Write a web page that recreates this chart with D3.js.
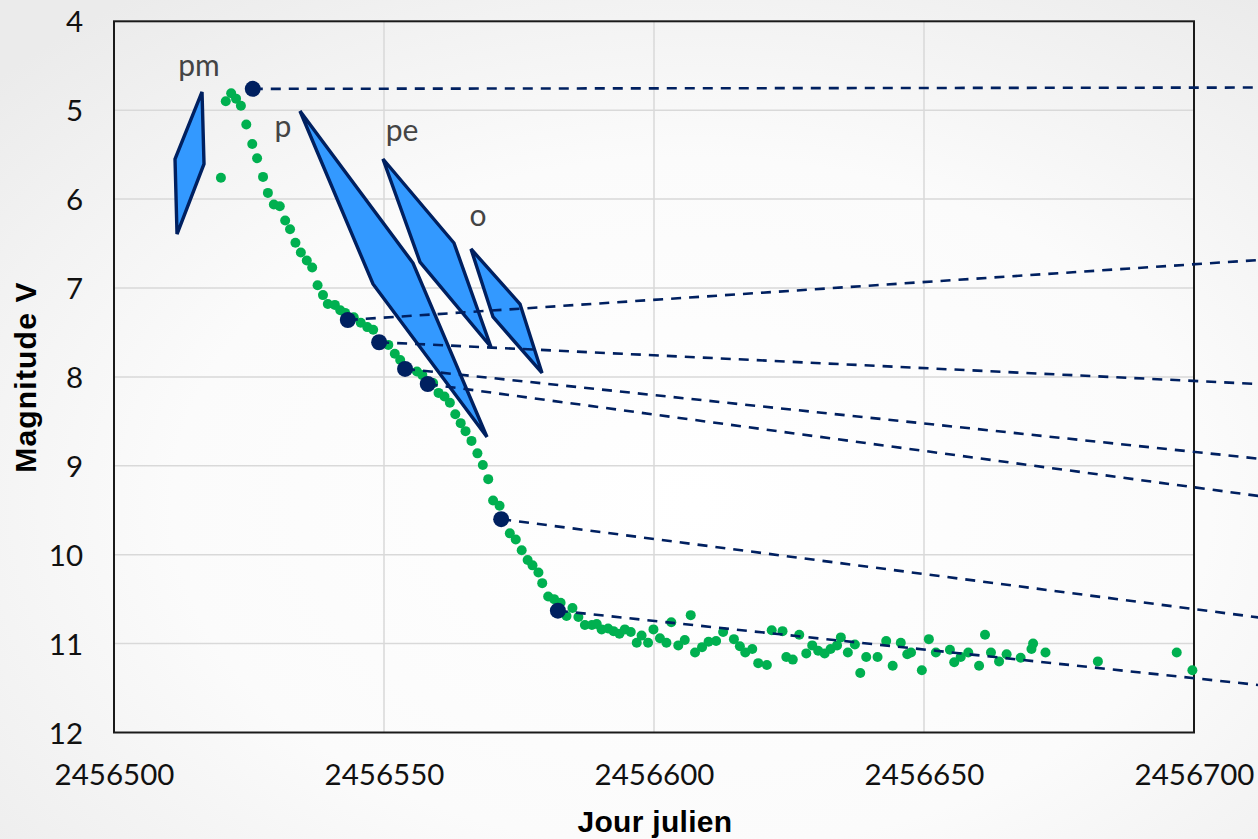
<!DOCTYPE html>
<html><head><meta charset="utf-8">
<script src="https://cdn.jsdelivr.net/npm/d3@7"></script>
<style>html,body{margin:0;padding:0;}svg{display:block;}</style>
</head><body>
<svg id="c" width="1258" height="839"></svg>
<script>
const JD0 = 2456500;
// observed magnitudes (green points): day offset from JD0, magnitude V
const obsDay = [19.8,20.7,21.7,22.6,23.5,24.5,25.6,26.5,27.6,28.5,29.6,30.7,31.7,32.6,33.6,34.6,35.7,36.7,37.7,38.7,39.6,40.9,41.9,42.8,44.4,45.7,46.9,48.0,50.8,52.0,53.0,56.1,57.1,59.1,60.1,61.2,62.2,63.2,64.2,65.1,66.2,67.3,68.3,69.3,70.2,71.4,73.3,74.4,75.5,76.6,77.5,78.6,79.3,80.4,81.5,82.7,83.8,84.9,86.0,87.2,88.5,89.4,90.3,91.5,92.5,93.6,94.6,95.7,96.8,97.7,98.9,99.9,101.1,102.3,103.2,104.5,105.7,106.8,107.6,108.9,110.1,111.5,112.8,114.8,115.9,116.9,118.2,119.3,120.9,121.8,123.8,124.5,125.7,126.9,128.2,129.3,130.4,131.6,132.7,133.9,134.6,135.9,137.2,138.2,139.3,141.4,143.0,144.2,145.7,146.9,147.6,149.6,150.9,152.2,154.8,155.6,156.8,158.2,160.2,161.3,162.4,163.9,165.3,167.9,169.9,170.2,172.5,182.2,196.8,199.7];
const obsMag = [5.76,4.90,4.81,4.87,4.95,5.16,5.38,5.54,5.75,5.93,6.06,6.08,6.24,6.34,6.49,6.60,6.69,6.77,6.97,7.08,7.18,7.19,7.25,7.28,7.33,7.39,7.44,7.47,7.64,7.74,7.81,7.94,7.98,8.07,8.18,8.22,8.29,8.42,8.52,8.61,8.72,8.86,8.99,9.15,9.39,9.45,9.76,9.83,9.95,10.06,10.12,10.20,10.32,10.47,10.50,10.54,10.69,10.60,10.70,10.79,10.79,10.78,10.84,10.83,10.86,10.89,10.84,10.87,10.99,10.91,10.99,10.84,10.94,10.99,10.76,11.02,10.96,10.68,11.10,11.04,10.98,10.97,10.87,10.95,11.03,11.10,11.06,11.22,11.24,10.85,10.86,11.15,11.18,10.90,11.11,11.02,11.08,11.11,11.06,11.02,10.93,11.10,11.01,11.33,11.15,11.15,10.97,11.25,10.99,11.12,11.10,11.30,10.95,11.10,11.07,11.21,11.15,11.10,11.25,10.90,11.10,11.20,11.12,11.16,11.06,11.00,11.10,11.20,11.10,11.30];
// highlighted epochs (dark points) and the end of their dashed lines
const keyDay = [25.7,43.3,49.1,53.9,58.1,71.7,82.2];
const keyMag = [4.76,7.36,7.61,7.91,8.08,9.60,10.63];
const dashEndDay = 212;
const dashEndMag = [4.745,6.685,8.08,8.92,9.34,10.706,11.466];
// blue shapes: name, vertices [day offset, mag], label position
const shapeNames = ["pm","p","pe","o"];
const shapeDays = [[16.3,16.67,11.67,11.3],[34.44,55.37,69.07,47.96],[49.81,62.96,69.81,56.67],[66.11,75.19,79.26,70.19]];
const shapeMags = [[4.795,5.605,6.393,5.549],[5.009,6.719,8.676,6.955],[5.549,6.494,7.664,6.708],[6.561,7.18,7.956,7.326]];
const labelDay = [15.74,31.3,53.33,67.41];
const labelMag = [4.615,5.30,5.35,6.30];
const xTicks = [2456500,2456550,2456600,2456650,2456700];
const yTicks = [4,5,6,7,8,9,10,11,12];

const svg = d3.select("#c");
const W = 1258, H = 839;
const defs = svg.append("defs");
const rg = defs.append("radialGradient").attr("id","bg").attr("cx","55%").attr("cy","60%").attr("r","75%");
rg.append("stop").attr("offset","0%").attr("stop-color","#ffffff");
rg.append("stop").attr("offset","55%").attr("stop-color","#fbfbfb");
rg.append("stop").attr("offset","100%").attr("stop-color","#ebebeb");
svg.append("rect").attr("width",W).attr("height",H).attr("fill","url(#bg)");

const x = d3.scaleLinear().domain([2456500,2456700]).range([114,1194]);
const y = d3.scaleLinear().domain([4,12]).range([21.3,732.5]);

// grid
const g = svg.append("g");
g.selectAll(".hg").data(yTicks.slice(1,-1)).join("line")
  .attr("x1",x(2456500)).attr("x2",x(2456700)).attr("y1",d=>y(d)).attr("y2",d=>y(d))
  .attr("stroke","#d9d9d9").attr("stroke-width",1.5);
g.selectAll(".vg").data(xTicks.slice(1,-1)).join("line")
  .attr("y1",y(4)).attr("y2",y(12)).attr("x1",d=>x(d)).attr("x2",d=>x(d))
  .attr("stroke","#d9d9d9").attr("stroke-width",1.5);
// frame
svg.append("rect").attr("x",x(2456500)).attr("y",y(4)).attr("width",x(2456700)-x(2456500)).attr("height",y(12)-y(4))
  .attr("fill","none").attr("stroke","#1a1a1a").attr("stroke-width",2);

// axes (labels only)
const xAxis = d3.axisBottom(x).tickValues(xTicks).tickFormat(d3.format("d")).tickSize(0).tickPadding(0);
const xa = svg.append("g").attr("transform",`translate(0,${y(12)})`).call(xAxis);
xa.select(".domain").remove();
xa.selectAll("text").attr("font-family","Lato, 'Open Sans', sans-serif").attr("font-size",29.5).attr("fill","#111").attr("dy",0).attr("y",52);
const yAxis = d3.axisLeft(y).tickValues(yTicks).tickFormat(d3.format("d")).tickSize(0).tickPadding(0);
const ya = svg.append("g").attr("transform",`translate(${x(2456500)-31},0)`).call(yAxis);
ya.select(".domain").remove();
ya.selectAll("text").attr("font-family","Lato, 'Open Sans', sans-serif").attr("font-size",29.5).attr("fill","#111").attr("dy","0.36em");

svg.append("text").attr("x",655).attr("y",832).attr("text-anchor","middle")
  .attr("font-family","'Liberation Sans', Arial, sans-serif").attr("font-weight","bold").attr("font-size",30).attr("letter-spacing",0.3).attr("fill","#000").text("Jour julien");
svg.append("text").attr("transform","translate(36,377) rotate(-90)").attr("text-anchor","middle")
  .attr("font-family","'Liberation Sans', Arial, sans-serif").attr("font-weight","bold").attr("font-size",30).attr("letter-spacing",1.2).attr("fill","#000").text("Magnitude V");

// shapes
const shapes = shapeNames.map((n,i)=>({name:n, pts:shapeDays[i].map((d,j)=>[x(JD0+d), y(shapeMags[i][j])])}));
svg.append("g").selectAll("path").data(shapes).join("path")
  .attr("d",s=>d3.line()(s.pts)+"Z")
  .attr("fill","#3399ff").attr("stroke","#002060").attr("stroke-width",3.4).attr("stroke-linejoin","miter");
svg.append("g").selectAll("text").data(shapeNames).join("text")
  .attr("x",(d,i)=>x(JD0+labelDay[i])).attr("y",(d,i)=>y(labelMag[i])).attr("text-anchor","middle")
  .attr("font-family","Lato, 'Open Sans', sans-serif").attr("font-size",30).attr("fill","#444").text(d=>d);

// observations
svg.append("g").selectAll("circle").data(obsDay).join("circle")
  .attr("cx",d=>x(JD0+d)).attr("cy",(d,i)=>y(obsMag[i])).attr("r",5).attr("fill","#00b050");

// dashed lines
svg.append("g").selectAll("line").data(keyDay).join("line")
  .attr("x1",d=>x(JD0+d)).attr("y1",(d,i)=>y(keyMag[i]))
  .attr("x2",x(JD0+dashEndDay)).attr("y2",(d,i)=>y(dashEndMag[i]))
  .attr("stroke","#002060").attr("stroke-width",2.6).attr("stroke-dasharray","10,8");

// key points
svg.append("g").selectAll("circle").data(keyDay).join("circle")
  .attr("cx",d=>x(JD0+d)).attr("cy",(d,i)=>y(keyMag[i])).attr("r",8).attr("fill","#002060");
</script>
</body></html>
